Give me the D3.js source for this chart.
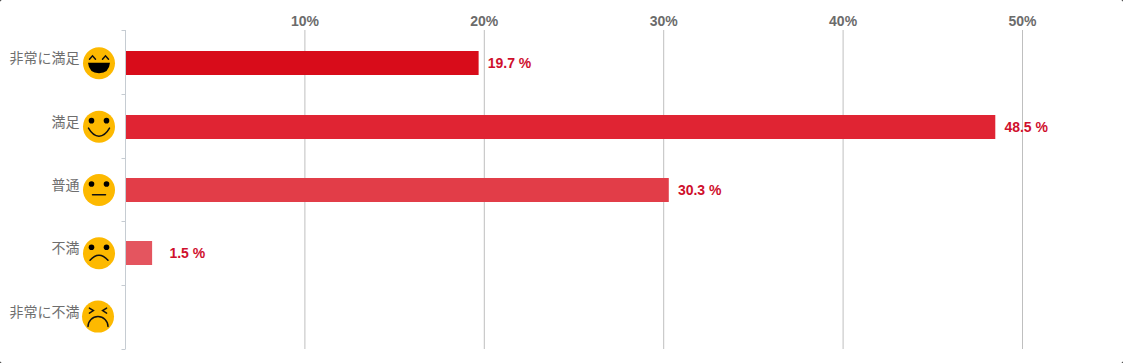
<!DOCTYPE html>
<html>
<head>
<meta charset="utf-8">
<script src="https://cdn.jsdelivr.net/npm/d3@7"></script>
<style>
  html, body { margin: 0; padding: 0; background: #fff; }
  svg { display: block; }
  .axis-label { font-family: "Liberation Sans", sans-serif; font-weight: bold; font-size: 14px; fill: #6b6b6b; }
  .cat-label { font-family: "Noto Sans CJK JP", sans-serif; font-size: 14px; fill: #6e6e6e; }
  .val-label { font-family: "Liberation Sans", sans-serif; font-weight: bold; font-size: 14px; fill: #cf0f2d; }
</style>
</head>
<body>
<div id="chart"></div>
<script>
// Satisfaction survey bar chart

const categories = ["非常に満足", "満足", "普通", "不満", "非常に不満"];
const values = [19.7, 48.5, 30.3, 1.5, null];
const barColors = ["#d80c1a", "#e02433", "#e23d48", "#e4555f", "#e86c75"];
const faces = ["laugh", "smile", "neutral", "sad", "cry"];
const xTicks = [10, 20, 30, 40, 50];

const width = 1123, height = 363;
const margin = { top: 30, right: 8, bottom: 14, left: 125.5 };
const barHeight = 24;

const svg = d3.select("#chart").append("svg")
  .attr("width", width)
  .attr("height", height);

// card with small rounded corners on a black page
svg.append("rect").attr("width", width).attr("height", height).attr("fill", "#000");
svg.append("rect").attr("width", width).attr("height", height).attr("rx", 2).attr("fill", "#fff");

const xScale = d3.scaleLinear().domain([0, 55]).range([margin.left, margin.left + 55 * 17.94]);
const yScale = d3.scaleBand().domain(categories).range([margin.top, height - margin.bottom]);
// the rows sit a little tighter than the axis ticks
const rowScale = d3.scaleBand().domain(categories).range([51.3, 51.3 + 5 * 63.33]);

// grid lines
svg.append("g").selectAll("line")
  .data(xTicks)
  .enter().append("line")
  .attr("x1", d => xScale(d)).attr("x2", d => xScale(d))
  .attr("y1", margin.top).attr("y2", height - margin.bottom)
  .attr("stroke", "#bfbfbf");

// top axis labels
svg.append("g").selectAll("text")
  .data(xTicks)
  .enter().append("text")
  .attr("class", "axis-label")
  .attr("x", d => xScale(d))
  .attr("y", 26)
  .attr("text-anchor", "middle")
  .text(d => d + "%");

// left axis with ticks between the bands
svg.append("line")
  .attr("x1", margin.left).attr("x2", margin.left)
  .attr("y1", margin.top).attr("y2", height - margin.bottom)
  .attr("stroke", "#c6ccd2");

const bandEdges = categories.map(d => yScale(d)).concat([height - margin.bottom]);
svg.append("g").selectAll("line")
  .data(bandEdges)
  .enter().append("line")
  .attr("x1", margin.left - 4).attr("x2", margin.left)
  .attr("y1", d => Math.round(d) + 0.5).attr("y2", d => Math.round(d) + 0.5)
  .attr("stroke", "#c6ccd2");

// bars
const rows = categories.map((c, i) => ({ cat: c, value: values[i], color: barColors[i], face: faces[i] }));
const rowMid = d => rowScale(d.cat) + barHeight / 2;

svg.append("g").selectAll("rect")
  .data(rows.filter(d => d.value !== null))
  .enter().append("rect")
  .attr("x", margin.left + 0.5)
  .attr("y", d => Math.round(rowScale(d.cat)))
  .attr("width", d => xScale(d.value) - margin.left - 0.8)
  .attr("height", barHeight)
  .attr("fill", d => d.color);

// value labels, the short bar's label sits further out
svg.append("g").selectAll("text")
  .data(rows.filter(d => d.value !== null))
  .enter().append("text")
  .attr("class", "val-label")
  .attr("x", d => xScale(d.value) + (d.value < 5 ? 17 : 8.8))
  .attr("y", d => rowMid(d) + 5)
  .text(d => d.value + " %");

// category labels
svg.append("g").selectAll("text")
  .data(rows)
  .enter().append("text")
  .attr("class", "cat-label")
  .attr("x", 79.5)
  .attr("y", d => rowMid(d))
  .attr("text-anchor", "end")
  .text(d => d.cat);

// smiley faces
const face = svg.append("g").selectAll("g")
  .data(rows)
  .enter().append("g")
  .attr("transform", d => `translate(${d.face === "cry" ? 98 : 99},${rowMid(d)})`);

face.append("circle").attr("r", 16).attr("fill", "#fdb900");

face.each(function (d) {
  const g = d3.select(this);
  const stroke = p => g.append("path").attr("d", p).attr("fill", "none")
    .attr("stroke", "#111").attr("stroke-width", 1.5).attr("stroke-linecap", "round");
  if (d.face === "laugh") {
    stroke("M-9.5,-4 L-6.5,-7.5 L-3.5,-4");
    stroke("M3.5,-4 L6.5,-7.5 L9.5,-4");
    g.append("path").attr("d", "M-11,-0.5 H11 Q10,10 0,10 Q-10,10 -11,-0.5 Z").attr("fill", "#000");
    return;
  }
  if (d.face === "cry") {
    stroke("M-8.6,-8.5 L-4.6,-6 L-8.6,-3.5");
    stroke("M8.6,-8.5 L4.6,-6 L8.6,-3.5");
    stroke("M-10,10 A10,10 0 0 1 10,10");
    return;
  }
  g.append("circle").attr("cx", -7.5).attr("cy", -6).attr("r", 2.8).attr("fill", "#000");
  g.append("circle").attr("cx", 7.5).attr("cy", -6).attr("r", 2.8).attr("fill", "#000");
  if (d.face === "smile") stroke("M-10.5,1.5 Q-6,9.5 0,9.5 Q6,9.5 10.5,1.5");
  if (d.face === "neutral") stroke("M-6.5,4.8 H6.5");
  if (d.face === "sad") stroke("M-9,7 Q0,-3 9,7");
});
</script>
</body>
</html>
